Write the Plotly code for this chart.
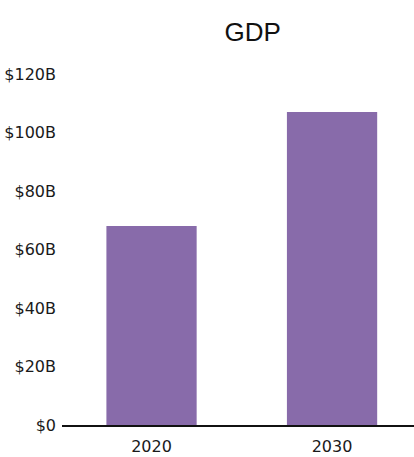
import plotly.graph_objects as go

categories = ["2020", "2030"]
gdp_billions = [68, 107]
tick_values = [0, 20, 40, 60, 80, 100, 120]
tick_labels = ["$0", "$20B", "$40B", "$60B", "$80B", "$100B", "$120B"]

fig = go.Figure(go.Bar(
    x=categories, y=gdp_billions, marker_color="#886BAA",
    marker_line_width=0, width=0.5,
))
fig.update_layout(
    width=414, height=457,
    margin=dict(l=62, r=0, t=74, b=32, autoexpand=False),
    paper_bgcolor="white", plot_bgcolor="white",
    font=dict(family="DejaVu Sans, sans-serif", size=16, color="#1a1a1a"),
    title=dict(text="GDP", x=0.542, xanchor="center", y=1 - 31.5 / 457, yanchor="middle",
               xref="paper", font=dict(family="Liberation Sans, Arial, sans-serif", size=26, color="#111")),
    showlegend=False,
)
fig.update_xaxes(type="category", range=[-0.496, 1.454], showgrid=False, ticks="",
                 showline=True, linecolor="#111", linewidth=1.5, tickfont=dict(size=16),
                 ticklabelstandoff=6, automargin=False)
fig.update_yaxes(range=[0, 120], tickvals=tick_values, ticktext=tick_labels,
                 showgrid=False, zeroline=False, showline=False, ticks="",
                 tickfont=dict(size=16), ticklabelstandoff=5, automargin=False)
fig.write_html("out.html")
